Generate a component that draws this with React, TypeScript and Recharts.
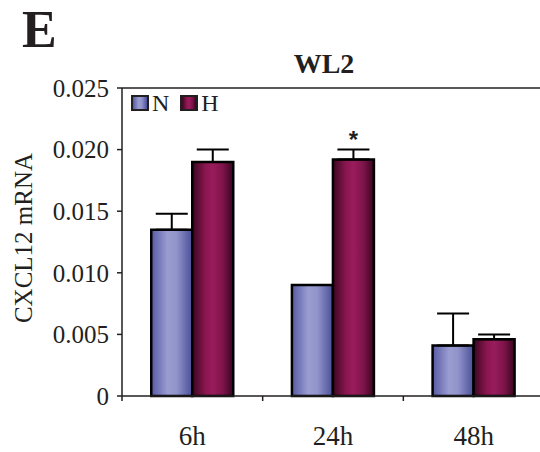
import { BarChart, Bar, XAxis, YAxis, ErrorBar, LabelList, Legend, ReferenceLine } from 'recharts'

const timePoints = ['6h', '24h', '48h']
const normoxia = [0.0135, 0.009, 0.0041]
const hypoxia = [0.019, 0.0192, 0.0046]
const normoxiaErr = [0.0013, 0, 0.0026]
const hypoxiaErr = [0.001, 0.0008, 0.0004]
const significance = ['', '*', '']
const yTicks = [0, 0.005, 0.01, 0.015, 0.02, 0.025]

const data = timePoints.map((t, i) => ({
    time: t,
    N: normoxia[i],
    H: hypoxia[i],
    // upward-only error bars: [lower, upper]
    nErr: [0, normoxiaErr[i]],
    hErr: [0, hypoxiaErr[i]],
    sig: significance[i],
}))

const INK = '#231f20'
const SERIF = '"Liberation Serif", "Times New Roman", serif'
const N_GRADIENT = 'linear-gradient(to right, #575aa3, #9a9dd1 40%, #9194ca 62%, #4a4e98)'
const H_GRADIENT = 'linear-gradient(to right, #3a0620, #8a1650 32%, #991c5c 50%, #7e144a 74%, #380520)'

const TimeTick = (props: any) => {
    const { x, y, payload } = props
    const axisY = y - 5
    const edge = x - (payload?.offset ?? 70)
    return (
        <g>
            <line x1={edge} x2={edge} y1={axisY} y2={axisY + 5} stroke={INK} strokeWidth={1.5} />
            <text x={x} y={axisY + 49} textAnchor="middle" fontSize={27} fontFamily={SERIF} fill={INK}>
                {payload.value}
            </text>
        </g>
    )
}

const StarLabel = (props: any) => {
    const { x, y, width, value } = props
    if (!value) return null
    return (
        <text x={x + width / 2} y={y - 11} textAnchor="middle" fontSize={24} fontWeight="bold"
            fontFamily='"Liberation Sans", Arial, sans-serif' fill={INK}>
            {value}
        </text>
    )
}

const Swatch = ({ bg }: { bg: string }) => (
    <span style={{
        display: 'inline-block', width: 14, height: 12, border: `2px solid ${INK}`,
        background: bg, marginRight: 3, verticalAlign: 'baseline',
    }} />
)

const LegendBox = () => (
    <div style={{ fontFamily: SERIF, fontSize: 24, color: INK, lineHeight: '24px', whiteSpace: 'nowrap' }}>
        <Swatch bg={N_GRADIENT} />
        <span style={{ marginRight: 11 }}>N</span>
        <Swatch bg={H_GRADIENT} />
        <span>H</span>
    </div>
)

export default function App() {
    return (
        <div style={{ position: 'absolute', left: 0, top: 0, width: 540, height: 452, overflow: 'hidden', background: '#fff' }}>
            <BarChart width={548} height={452} data={data}
                margin={{ top: 88, right: 4, left: 0, bottom: 0 }}
                barCategoryGap="20.8%" barGap={0}>
                <defs>
                    <linearGradient id="gradN" x1="0" y1="0" x2="1" y2="0">
                        <stop offset="0%" stopColor="#575aa3" />
                        <stop offset="40%" stopColor="#9a9dd1" />
                        <stop offset="62%" stopColor="#9194ca" />
                        <stop offset="100%" stopColor="#4a4e98" />
                    </linearGradient>
                    <linearGradient id="gradH" x1="0" y1="0" x2="1" y2="0">
                        <stop offset="0%" stopColor="#3a0620" />
                        <stop offset="32%" stopColor="#8a1650" />
                        <stop offset="50%" stopColor="#991c5c" />
                        <stop offset="74%" stopColor="#7e144a" />
                        <stop offset="100%" stopColor="#380520" />
                    </linearGradient>
                </defs>
                <XAxis dataKey="time" height={56} tickLine={false} tickSize={5} tickMargin={0}
                    axisLine={{ stroke: INK, strokeWidth: 1.5 }} tick={<TimeTick />} interval={0} />
                <YAxis width={122} domain={[0, 0.025]} ticks={yTicks} tickSize={5} tickMargin={8}
                    axisLine={{ stroke: INK, strokeWidth: 1.5 }} tickLine={{ stroke: INK, strokeWidth: 1.5 }}
                    tickFormatter={(v: number) => (v === 0 ? '0' : v.toFixed(3))}
                    tick={{ fontSize: 25, fontFamily: SERIF, fill: INK }}
                    label={{
                        content: ({ viewBox }: any) => {
                            const cx = 23
                            const cy = viewBox.y + viewBox.height / 2 - 4
                            return (
                                <text x={cx} y={cy} transform={`rotate(-90, ${cx}, ${cy})`} textAnchor="middle"
                                    dominantBaseline="central" fontSize={25} fontFamily={SERIF} fill={INK}>
                                    CXCL12 mRNA
                                </text>
                            )
                        },
                    }} />
                <ReferenceLine y={0.025} stroke={INK} strokeWidth={1.5} ifOverflow="visible" />
                <Legend layout="horizontal" verticalAlign="middle" align="center" content={<LegendBox />}
                    wrapperStyle={{ top: 91, left: 131, width: 'auto' }} />
                <Bar dataKey="N" fill="url(#gradN)" stroke="#000" strokeWidth={2.5} isAnimationActive={false}>
                    <ErrorBar dataKey="nErr" width={16} stroke="#000" strokeWidth={2} direction="y" />
                </Bar>
                <Bar dataKey="H" fill="url(#gradH)" stroke="#000" strokeWidth={2.5} isAnimationActive={false}>
                    <ErrorBar dataKey="hErr" width={16} stroke="#000" strokeWidth={2} direction="y" />
                    <LabelList dataKey="sig" content={<StarLabel />} />
                </Bar>
            </BarChart>
            <svg width={540} height={452} style={{ position: 'absolute', left: 0, top: 0, pointerEvents: 'none' }}>
                <text x={22} y={47} fontSize={52} fontWeight="bold" fontFamily={SERIF} fill={INK}>E</text>
                <text x={324} y={73} textAnchor="middle" fontSize={28} fontWeight="bold" fontFamily={SERIF} fill={INK}>WL2</text>
            </svg>
        </div>
    )
}
